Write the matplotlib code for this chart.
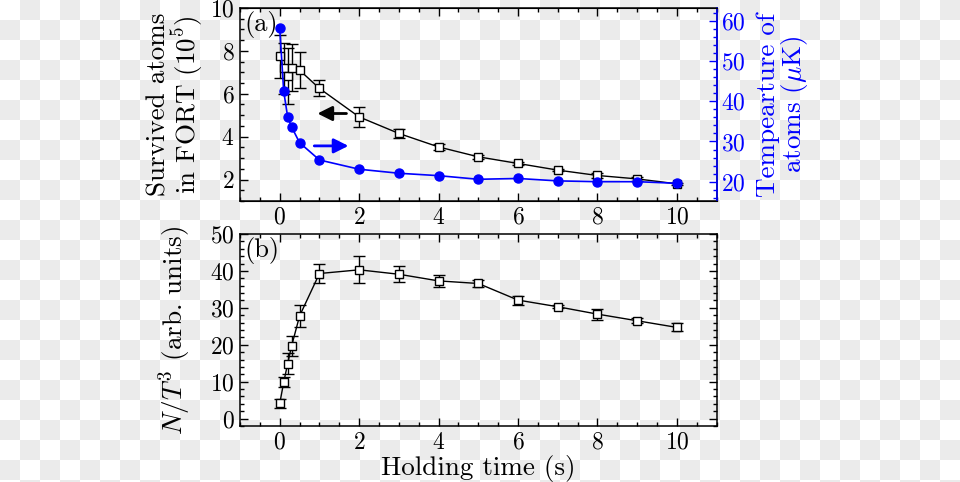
import numpy as np
import matplotlib
matplotlib.use("Agg")
import matplotlib.pyplot as plt
from matplotlib.ticker import MultipleLocator

plt.rcParams['font.family'] = ['cmr10', 'DejaVu Serif']
plt.rcParams['mathtext.fontset'] = 'cm'
plt.rcParams['axes.formatter.use_mathtext'] = True
plt.rcParams['font.size'] = 17
plt.rcParams['axes.labelsize'] = 19.5

# holding times (s)
t = [0, 0.1, 0.2, 0.3, 0.5, 1, 2, 3, 4, 5, 6, 7, 8, 9, 10]

# survived atoms in FORT (1e5)
atoms = [7.75, 7.18, 6.82, 7.21, 7.1, 6.25, 4.92, 4.15, 3.52, 3.06, 2.75, 2.44, 2.19, 2.03, 1.80]
atoms_err = [1.0, 1.2, 1.3, 1.1, 0.85, 0.37, 0.47, 0.23, 0.15, 0.08, 0.08, 0.05, 0.1, 0.08, 0.05]

# temperature of atoms (uK)
temp = [58.2, 42.5, 36.1, 33.6, 29.7, 25.4, 23.1, 22.1, 21.5, 20.6, 20.8, 20.2, 20.0, 20.0, 19.6]

# N/T^3 (arb. units)
ratio = [4.1, 9.8, 14.9, 19.7, 27.8, 39.3, 40.3, 39.1, 37.3, 36.6, 32.1, 30.3, 28.3, 26.5, 24.7]
ratio_err = [1.2, 1.35, 2.8, 2.8, 3.1, 2.5, 3.7, 2.2, 1.6, 0.9, 1.2, 0.4, 1.5, 0.7, 1.1]

fig = plt.figure(figsize=(9.6, 4.82), dpi=100)

# transparency checkerboard behind everything
H, W = 482, 960
rr, cc = np.mgrid[0:H, 0:W]
board = np.where(((rr // 20) + (cc // 20)) % 2 == 1, 0.922, 1.0)
fig.figimage(np.dstack([board] * 3), xo=0, yo=0, origin='upper', zorder=-10)
fig.patch.set_alpha(0)

ax1 = fig.add_axes([0.25, 0.583, 0.4965, 0.4004])
ax2 = fig.add_axes([0.25, 0.1162, 0.4965, 0.3983])
ax1.set_facecolor('none')
ax2.set_facecolor('none')

blue = '#0000ff'

ax1.errorbar(t, atoms, yerr=atoms_err, color='black', marker='s', ms=6,
             mfc='white', mec='black', lw=1.0, capsize=4, elinewidth=1.0, zorder=3)
ax1.set_xlim(-1, 11)
ax1.set_ylim(1, 10)
ax1.set_ylabel('Survived atoms\nin FORT (10$^5$)', linespacing=0.95, labelpad=3)
ax1.annotate('', xy=(0.88, 5.08), xytext=(1.75, 5.08),
             arrowprops=dict(arrowstyle='-|>', color='black', lw=2, mutation_scale=22))
ax1.annotate('', xy=(1.8, 3.57), xytext=(0.8, 3.57),
             arrowprops=dict(arrowstyle='-|>', color=blue, lw=2, mutation_scale=22))
ax1.text(0.01, 0.985, '(a)', transform=ax1.transAxes, va='top', ha='left', fontsize=19)

ax1r = ax1.twinx()
ax1r.set_facecolor('none')
ax1r.plot(t, temp, color=blue, marker='o', ms=6.5, lw=1.2, zorder=2)
ax1r.set_ylim(15.2, 63.2)
ax1r.yaxis.set_major_locator(MultipleLocator(10))
ax1r.yaxis.set_minor_locator(MultipleLocator(2))
ax1r.set_ylabel('Tempearture of\natoms ($\\mu$K)', color=blue, linespacing=0.95, labelpad=8)
ax1r.tick_params(axis='y', which='both', direction='in', colors=blue, pad=3)
ax1r.tick_params(axis='y', which='major', length=6, width=1)
ax1r.tick_params(axis='y', which='minor', length=3, width=1)
ax1r.spines['right'].set_color(blue)
ax1r.spines['right'].set_linewidth(1.1)

ax2.errorbar(t, ratio, yerr=ratio_err, color='black', marker='s', ms=6,
             mfc='white', mec='black', lw=1.0, capsize=4, elinewidth=1.0)
ax2.set_xlim(-1, 11)
ax2.set_ylim(-2, 50)
ax2.set_ylabel('$N/T^3$ (arb. units)', labelpad=12)
ax2.set_xlabel('Holding time (s)', labelpad=1)
ax2.text(0.01, 0.985, '(b)', transform=ax2.transAxes, va='top', ha='left', fontsize=19)

for a, ymaj, ymin in [(ax1, 2, 0.5), (ax2, 10, 2)]:
    a.xaxis.set_major_locator(MultipleLocator(2))
    a.xaxis.set_minor_locator(MultipleLocator(0.5))
    a.yaxis.set_major_locator(MultipleLocator(ymaj))
    a.yaxis.set_minor_locator(MultipleLocator(ymin))
    a.tick_params(which='both', direction='in', top=True, pad=4)
    a.tick_params(which='major', length=6, width=1)
    a.tick_params(which='minor', length=3, width=1)
    for s in a.spines.values():
        s.set_linewidth(1.1)
ax2.tick_params(which='both', right=True)
ax1.tick_params(axis='y', which='both', right=False)
ax1r.spines['left'].set_visible(False)

fig.savefig('out.png', dpi=100, transparent=False)
